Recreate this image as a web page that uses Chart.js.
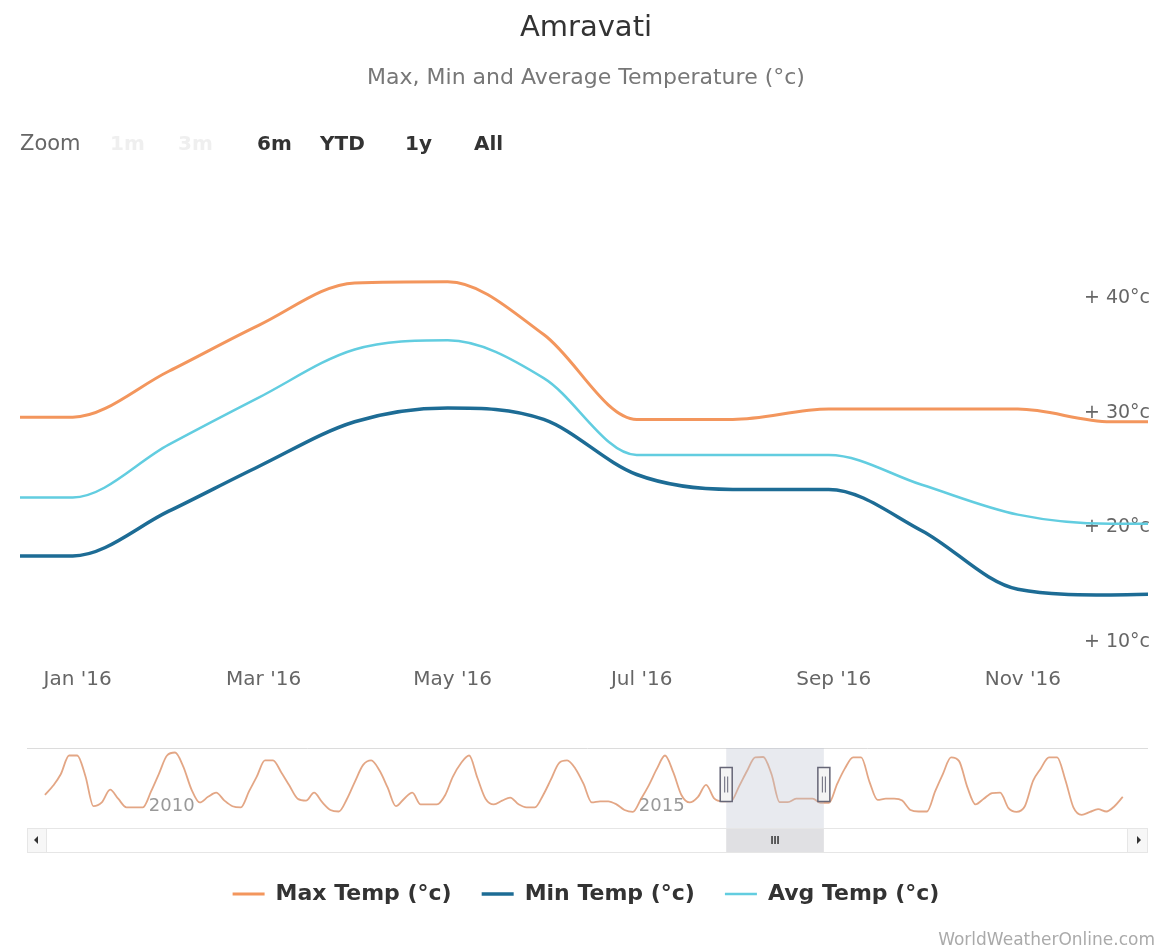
<!DOCTYPE html>
<html>
<head>
<meta charset="utf-8">
<title>Amravati</title>
<script src="https://cdn.jsdelivr.net/npm/chart.js@4.4.0/dist/chart.umd.min.js"></script>
<style>
  html, body { margin: 0; padding: 0; background: #fff; overflow: hidden; }
  #wrap { position: relative; width: 1168px; height: 949px; font-family: "DejaVu Sans", sans-serif; }
  #main { position: absolute; left: 0; top: 0; }
  #nav { position: absolute; left: 0; top: 740px; }
  .zoom { position: absolute; top: 131px; font-size: 20px; line-height: 24px; font-weight: bold; color: #333; }
  .zoom.label { font-weight: normal; color: #666; font-size: 21px; }
  .zoom.off { color: #efefef; }
  #credit { position: absolute; right: 13px; top: 929px; font-size: 17px; color: #aaa; }
</style>
</head>
<body>
<div id="wrap">
  <canvas id="main" width="1168" height="949"></canvas>
  <canvas id="nav" width="1168" height="120"></canvas>
  <span class="zoom label" style="left:20px">Zoom</span>
  <span class="zoom off" style="left:110px">1m</span>
  <span class="zoom off" style="left:178px">3m</span>
  <span class="zoom" style="left:257px">6m</span>
  <span class="zoom" style="left:320px">YTD</span>
  <span class="zoom" style="left:405px">1y</span>
  <span class="zoom" style="left:474px">All</span>
  <div id="credit">WorldWeatherOnline.com</div>
</div>
<script>
// monthly values, one point per month start
const months = ['2015-12', '2016-01', '2016-02', '2016-03', '2016-04', '2016-05', '2016-06',
                '2016-07', '2016-08', '2016-09', '2016-10', '2016-11', '2016-12', '2017-01'];
const maxTemp = [30.3, 30.3, 34.3, 38.3, 42.0, 42.1, 37.5, 30.1, 30.1, 31.0, 31.0, 31.0, 29.9, 29.9];
const minTemp = [18.2, 18.2, 22.1, 26.0, 29.9, 31.1, 30.1, 25.3, 24.0, 24.0, 20.4, 15.3, 14.8, 15.0];
const avgTemp = [23.3, 23.3, 27.9, 32.0, 36.2, 37.0, 33.7, 27.0, 27.0, 27.0, 24.4, 21.8, 21.0, 21.0];

// visible range ("1y" zoom)
const viewStart = '2015-12-15';
const viewEnd = '2016-12-13';

const xTickMonths = ['2016-01', '2016-03', '2016-05', '2016-07', '2016-09', '2016-11'];
const xTickLabels = ["Jan '16", "Mar '16", "May '16", "Jul '16", "Sep '16", "Nov '16"];
const yTickValues = [10, 20, 30, 40];

// navigator: max temp, monthly from Jan 2009
const navStartYear = 2009;
const navigatorMaxTemp = [
  32.0, 34.5, 37.5, 42.5, 42.5, 37.0, 29.0, 30.0, 33.4, 31.0, 28.7, 28.7, // 2009
  28.7, 33.0, 37.5, 42.5, 43.3, 39.5, 33.5, 30.0, 31.5, 32.6, 30.5, 29.0, // 2010
  28.7, 33.0, 36.8, 41.2, 41.2, 38.0, 34.5, 31.0, 30.5, 32.6, 30.0, 28.0, // 2011
  27.6, 31.0, 35.5, 40.0, 41.2, 38.5, 34.0, 29.0, 31.0, 32.6, 29.5, 29.5, // 2012
  29.5, 32.0, 36.8, 40.5, 42.5, 36.5, 31.0, 29.5, 30.5, 31.3, 29.5, 28.7, // 2013
  28.7, 32.0, 36.0, 40.5, 41.2, 39.0, 35.0, 30.0, 30.3, 30.3, 29.5, 28.0, // 2014
  27.5, 31.0, 34.5, 39.0, 42.5, 38.0, 32.0, 30.0, 31.5, 34.7, 31.0, 30.3, // 2015
  30.3, 34.3, 38.3, 42.0, 42.1, 37.5, 30.1, 30.1, 31.0, 31.0, 31.0, 29.9, // 2016
  29.9, 35.0, 39.0, 42.0, 42.0, 35.5, 30.7, 31.0, 31.0, 30.5, 28.0, 27.6, // 2017
  27.6, 33.0, 37.5, 42.0, 41.0, 34.0, 29.5, 31.0, 32.5, 32.6, 28.5, 27.5, // 2018
  29.0, 35.8, 39.0, 42.0, 42.0, 36.0, 28.7, 26.7, 27.5, 28.2, 27.6, 29.0, // 2019
  31.5
];
const navTickYears = [2010, 2015];

const MAX_COLOR = '#f3965d';
const MIN_COLOR = '#1d6c95';
const AVG_COLOR = '#62cde0';

Chart.defaults.font.family = '"DejaVu Sans", sans-serif';

function dayOf(key) {
  const [y, m, d] = key.split('-').map(Number);
  return Date.UTC(y, m - 1, d || 1) / 864e5;
}

function series(values) {
  return values.map((v, i) => ({ x: dayOf(months[i]), y: v }));
}

new Chart(document.getElementById('main'), {
  type: 'line',
  data: {
    datasets: [
      { label: 'Max Temp (°c)', data: series(maxTemp), borderColor: MAX_COLOR, backgroundColor: MAX_COLOR, borderWidth: 3 },
      { label: 'Min Temp (°c)', data: series(minTemp), borderColor: MIN_COLOR, backgroundColor: MIN_COLOR, borderWidth: 3.5 },
      { label: 'Avg Temp (°c)', data: series(avgTemp), borderColor: AVG_COLOR, backgroundColor: AVG_COLOR, borderWidth: 2.5 }
    ]
  },
  options: {
    responsive: false,
    animation: false,
    layout: { padding: { left: 20, right: 16, top: 0, bottom: 34 } },
    elements: {
      point: { radius: 0 },
      line: { cubicInterpolationMode: 'monotone' }
    },
    plugins: {
      title: {
        display: true,
        text: 'Amravati',
        color: '#333',
        font: { size: 29, weight: 'normal' },
        padding: { top: 10.6, bottom: 19.4 }
      },
      subtitle: {
        display: true,
        text: 'Max, Min and Average Temperature (°c)',
        color: '#777',
        font: { size: 22 },
        padding: { top: 0, bottom: 157.3 }
      },
      legend: {
        position: 'bottom',
        labels: {
          usePointStyle: true,
          pointStyle: 'line',
          pointStyleWidth: 32,
          padding: 30,
          color: '#333',
          font: { size: 22, weight: 'bold' }
        }
      },
      tooltip: { enabled: false }
    },
    scales: {
      x: {
        type: 'linear',
        min: dayOf(viewStart),
        max: dayOf(viewEnd),
        grid: { display: false, drawTicks: false },
        border: { display: false },
        afterBuildTicks: s => { s.ticks = xTickMonths.map(k => ({ value: dayOf(k) })); },
        afterFit: s => { s.height = 203; },
        ticks: {
          callback: (v, i) => xTickLabels[i],
          color: '#666',
          font: { size: 20 },
          padding: 18,
          labelOffset: 5,
          maxRotation: 0,
          autoSkip: false
        }
      },
      y: {
        position: 'right',
        min: 10,
        max: 45,
        grid: { display: false, drawTicks: false },
        border: { display: false },
        afterBuildTicks: s => { s.ticks = yTickValues.map(v => ({ value: v })); },
        ticks: {
          mirror: true,
          padding: 2,
          labelOffset: -8,
          color: '#666',
          font: { size: 19 },
          callback: v => '+ ' + v + '°c'
        }
      }
    }
  }
});

// navigator mask, handles and scrollbar
const navChrome = {
  id: 'navChrome',
  afterDraw(chart) {
    const { ctx, chartArea: a, scales: { x } } = chart;
    const x1 = x.getPixelForValue(dayOf(viewStart));
    const x2 = x.getPixelForValue(dayOf(viewEnd));
    ctx.save();
    ctx.strokeStyle = '#dcdcdc';
    ctx.lineWidth = 1;
    ctx.beginPath();
    ctx.moveTo(a.left - 8, a.top + 0.5);
    ctx.lineTo(a.right, a.top + 0.5);
    ctx.stroke();

    const sy = a.bottom + 3, sh = 24;
    ctx.fillStyle = 'rgba(190, 195, 208, 0.35)';
    ctx.fillRect(x1, a.top, x2 - x1, sy - a.top);

    // scrollbar track and buttons
    const left = a.left - 8, right = a.right;
    ctx.strokeStyle = '#e6e6e6';
    ctx.strokeRect(left + 0.5, sy + 0.5, right - left - 1, sh);
    ctx.fillStyle = '#f7f7f7';
    ctx.fillRect(left + 1, sy + 1, 18, sh - 1);
    ctx.fillRect(right - 20, sy + 1, 19, sh - 1);
    ctx.strokeRect(left + 0.5, sy + 0.5, 19, sh);
    ctx.strokeRect(right - 20.5, sy + 0.5, 20, sh);
    ctx.fillStyle = '#333';
    const cy = sy + sh / 2;
    ctx.beginPath();
    ctx.moveTo(left + 7, cy); ctx.lineTo(left + 11, cy - 4); ctx.lineTo(left + 11, cy + 4); ctx.closePath(); ctx.fill();
    ctx.beginPath();
    ctx.moveTo(right - 7, cy); ctx.lineTo(right - 11, cy - 4); ctx.lineTo(right - 11, cy + 4); ctx.closePath(); ctx.fill();

    // thumb
    ctx.fillStyle = '#e0e0e3';
    ctx.fillRect(x1, sy + 1, x2 - x1, sh - 1);
    ctx.strokeStyle = '#333';
    ctx.lineWidth = 1.5;
    const mx = (x1 + x2) / 2;
    [-3, 0, 3].forEach(d => {
      ctx.beginPath(); ctx.moveTo(mx + d, cy - 4); ctx.lineTo(mx + d, cy + 4); ctx.stroke();
    });

    // handles
    const hy = (a.top + a.bottom) / 2 - 2;
    [x1, x2].forEach(hx => {
      ctx.fillStyle = '#f4f4f4';
      ctx.strokeStyle = '#667';
      ctx.lineWidth = 1.5;
      ctx.fillRect(hx - 6, hy - 17, 12, 34);
      ctx.strokeRect(hx - 6, hy - 17, 12, 34);
      ctx.lineWidth = 1;
      ctx.beginPath();
      ctx.moveTo(hx - 1.5, hy - 8); ctx.lineTo(hx - 1.5, hy + 8);
      ctx.moveTo(hx + 1.5, hy - 8); ctx.lineTo(hx + 1.5, hy + 8);
      ctx.stroke();
    });
    ctx.restore();
  }
};

const navStart = Date.UTC(navStartYear, 0, 1) / 864e5;

new Chart(document.getElementById('nav'), {
  type: 'line',
  data: {
    datasets: [{
      data: navigatorMaxTemp.map((v, i) => ({ x: Date.UTC(navStartYear, i, 1) / 864e5, y: v })),
      borderColor: 'rgba(222, 150, 112, 0.85)',
      borderWidth: 1.8,
      pointRadius: 0,
      cubicInterpolationMode: 'monotone'
    }]
  },
  options: {
    responsive: false,
    animation: false,
    layout: { padding: { left: 35, right: 20, top: 8, bottom: 35 } },
    plugins: { legend: { display: false }, tooltip: { enabled: false } },
    scales: {
      x: {
        type: 'linear',
        min: navStart - 37,
        max: navStart + 4111,
        grid: { display: false, drawTicks: false },
        border: { display: false },
        afterBuildTicks: s => { s.ticks = navTickYears.map(y => ({ value: Date.UTC(y, 0, 1) / 864e5 })); },
        afterFit: s => { s.height = 0; },
        ticks: {
          callback: (v, i) => String(navTickYears[i]),
          mirror: true,
          align: 'start',
          labelOffset: 6,
          padding: 8,
          color: '#999',
          font: { size: 18 },
          maxRotation: 0,
          autoSkip: false
        }
      },
      y: { display: false, min: 24, max: 44.5 }
    }
  },
  plugins: [navChrome]
});
</script>
</body>
</html>
